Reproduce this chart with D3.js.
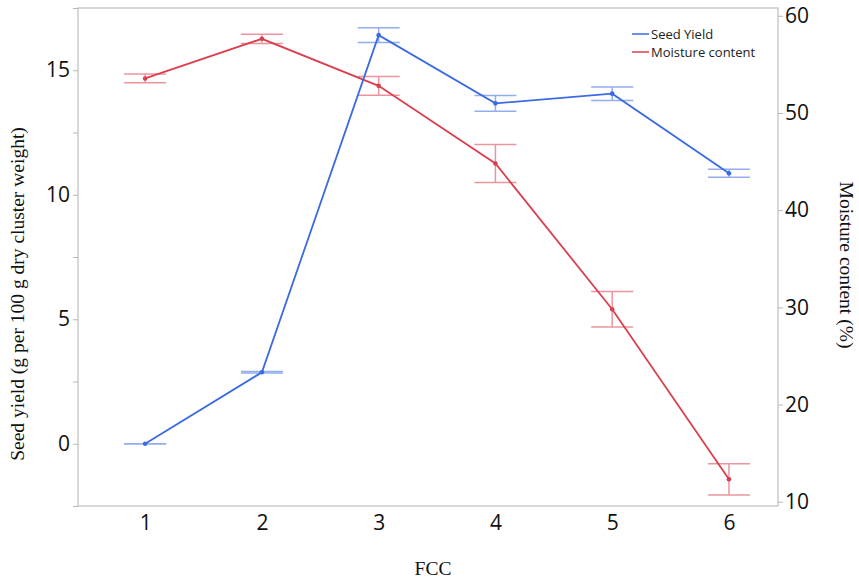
<!DOCTYPE html>
<html>
<head>
<meta charset="utf-8">
<script src="https://cdn.jsdelivr.net/npm/d3@7"></script>
<style>
  body { margin: 0; background: #fff; }
  .tick text { font-family: "Open Sans", "Noto Sans", sans-serif; font-size: 21px; fill: #111; }
  .axis-title { font-family: "Liberation Serif", "Times New Roman", serif; font-size: 19.5px; fill: #111; }
  .legend text { font-family: "Open Sans", "Noto Sans", sans-serif; font-size: 13px; fill: #222; }
</style>
</head>
<body>
<div id="chart"></div>
<script>
var fcc = [1, 2, 3, 4, 5, 6];

// seed yield, g per 100 g dry cluster weight (left axis)
var seedYield    = [0.0, 2.87, 16.41, 13.67, 14.06, 10.86];
var seedYieldErr = [0.0, 0.03, 0.30, 0.32, 0.27, 0.16];

// moisture content, % (right axis)
var moisture    = [53.55, 57.63, 52.79, 44.80, 29.81, 12.31];
var moistureErr = [0.45, 0.48, 0.97, 1.95, 1.82, 1.61];

var leftTicks  = [0, 5, 10, 15];
var rightTicks = [10, 20, 30, 40, 50, 60];

var blue = "#3b6be0";
var red = "#d9404f";

var svgWidth = 859, svgHeight = 579;
var margin = {top: 8, right: 81, bottom: 73, left: 78},
    width = svgWidth - margin.left - margin.right,
    height = svgHeight - margin.top - margin.bottom;

var svg = d3.select("#chart").append("svg")
    .attr("width", svgWidth)
    .attr("height", svgHeight);

var g = svg.append("g")
    .attr("transform", `translate(${margin.left}, ${margin.top})`);

var x = d3.scaleLinear().domain([0.425, 6.42]).range([0, width]);
var yL = d3.scaleLinear().domain([-2.5, 17.5]).range([height, 0]);
var yR = d3.scaleLinear().domain([9.56, 60.8]).range([height, 0]);

// frame
g.append("rect")
    .attr("width", width)
    .attr("height", height)
    .attr("fill", "none")
    .attr("stroke", "#c4c4c4")
    .attr("stroke-width", 1.3);

// left axis with minor ticks
g.append("g")
    .attr("class", "y axis")
    .call(d3.axisLeft(yL).tickValues(d3.range(-2.5, 17.6, 2.5)).tickSize(5).tickPadding(3)
        .tickFormat(d => leftTicks.includes(d) ? d : ""))
    .call(a => a.select(".domain").remove())
    .call(a => a.selectAll(".tick line").attr("stroke", "#b8b8b8"));

g.append("g")
    .attr("class", "y2 axis")
    .attr("transform", `translate(${width}, 0)`)
    .call(d3.axisRight(yR).tickValues(rightTicks).tickSize(5).tickPadding(2))
    .call(a => a.select(".domain").remove())
    .call(a => a.selectAll(".tick line").attr("stroke", "#b8b8b8"));

g.append("g")
    .attr("class", "x axis")
    .attr("transform", `translate(0, ${height})`)
    .call(d3.axisBottom(x).tickValues(fcc).tickSize(0).tickPadding(9).tickFormat(d3.format("d")))
    .call(a => a.select(".domain").remove());

// titles
svg.append("text")
    .attr("class", "axis-title")
    .attr("transform", "translate(24, 294) rotate(-90)")
    .attr("text-anchor", "middle")
    .text("Seed yield (g per 100 g dry cluster weight)");

svg.append("text")
    .attr("class", "axis-title")
    .attr("transform", "translate(840, 265) rotate(90)")
    .attr("text-anchor", "middle")
    .text("Moisture content (%)");

svg.append("text")
    .attr("class", "axis-title")
    .attr("x", 433)
    .attr("y", 575)
    .attr("text-anchor", "middle")
    .text("FCC");

function drawSeries(vals, errs, y, color) {
    var data = fcc.map((f, i) => ({x: f, v: vals[i], e: errs[i]}));
    var s = g.append("g");
    var capW = 21;

    var eb = s.selectAll(".err").data(data).enter().append("g")
        .attr("opacity", 0.55);
    eb.append("line")
        .attr("x1", d => x(d.x)).attr("x2", d => x(d.x))
        .attr("y1", d => y(d.v - d.e)).attr("y2", d => y(d.v + d.e))
        .attr("stroke", color).attr("stroke-width", 1.5);
    eb.append("line")
        .attr("x1", d => x(d.x) - capW).attr("x2", d => x(d.x) + capW)
        .attr("y1", d => y(d.v + d.e)).attr("y2", d => y(d.v + d.e))
        .attr("stroke", color).attr("stroke-width", 1.5);
    eb.append("line")
        .attr("x1", d => x(d.x) - capW).attr("x2", d => x(d.x) + capW)
        .attr("y1", d => y(d.v - d.e)).attr("y2", d => y(d.v - d.e))
        .attr("stroke", color).attr("stroke-width", 1.5);

    s.append("path")
        .datum(data)
        .attr("fill", "none")
        .attr("stroke", color)
        .attr("stroke-width", 1.8)
        .attr("d", d3.line().x(d => x(d.x)).y(d => y(d.v)));

    s.selectAll("circle").data(data).enter().append("circle")
        .attr("cx", d => x(d.x))
        .attr("cy", d => y(d.v))
        .attr("r", 2.3)
        .attr("fill", color);
}

drawSeries(moisture, moistureErr, yR, red);
drawSeries(seedYield, seedYieldErr, yL, blue);

// legend
var legend = svg.append("g").attr("class", "legend");
[["Seed Yield", blue], ["Moisture content", red]].forEach((d, i) => {
    var yy = 34 + i * 18;
    legend.append("line")
        .attr("x1", 632).attr("x2", 649)
        .attr("y1", yy).attr("y2", yy)
        .attr("stroke", d[1]).attr("stroke-width", 1.5);
    legend.append("text")
        .attr("x", 651).attr("y", yy + 4.5)
        .text(d[0]);
});
</script>
</body>
</html>
